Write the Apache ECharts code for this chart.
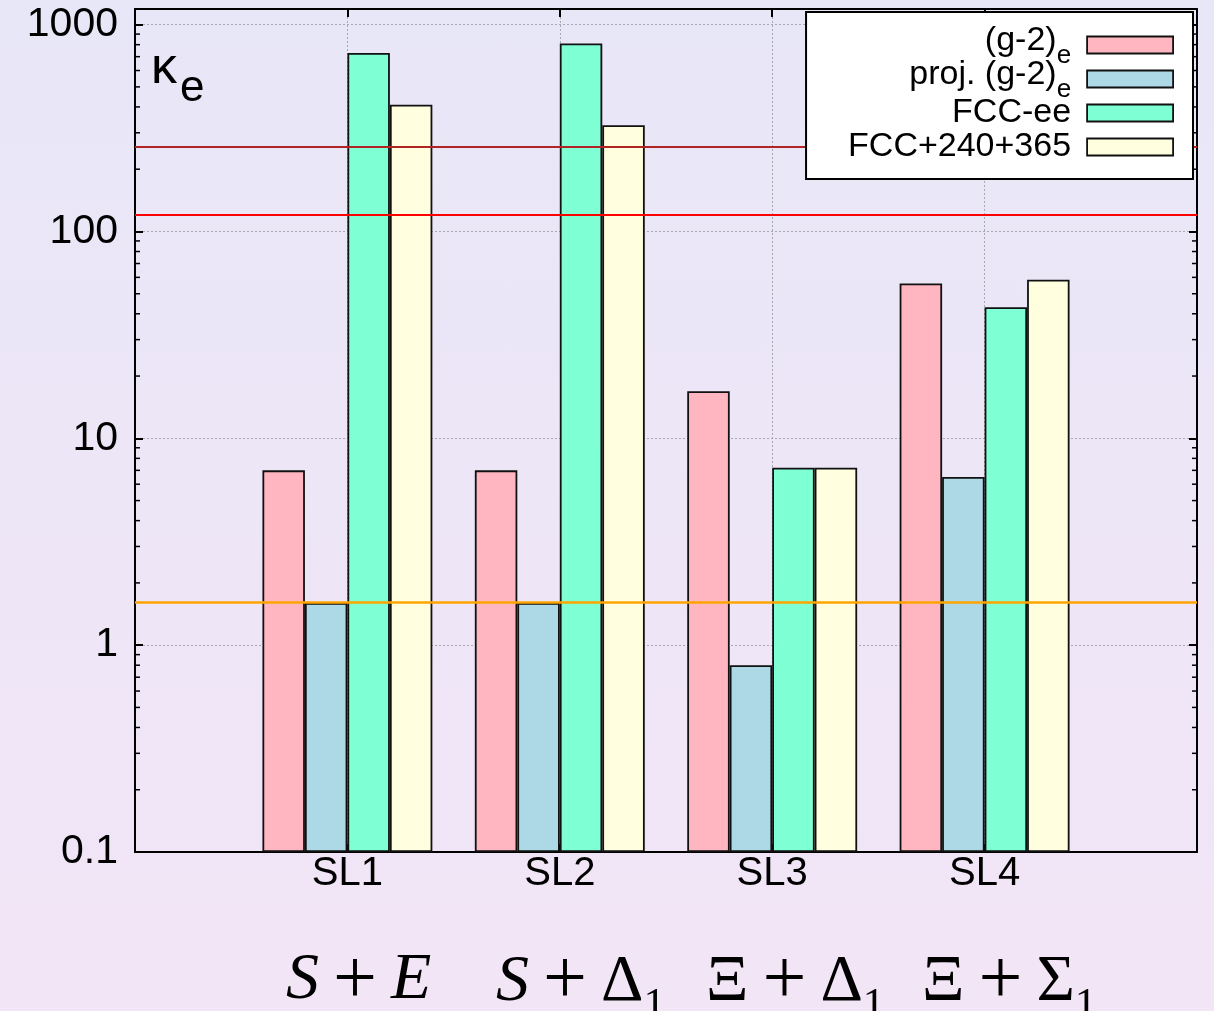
<!DOCTYPE html>
<html>
<head>
<meta charset="utf-8">
<script src="https://cdn.jsdelivr.net/npm/echarts@6/dist/echarts.min.js"></script>
<style>
html,body{margin:0;padding:0;width:1214px;height:1011px;overflow:hidden;
background:linear-gradient(to bottom,#e8e7f7 0%,#ede6f7 50%,#f2e5f6 100%);}
#chart{width:1214px;height:1011px;}
</style>
</head>
<body>
<div id="chart"></div>
<script>
// ---- data ----
const categories = ['SL1', 'SL2', 'SL3', 'SL4'];
const seriesNames = ['(g-2)e', 'proj. (g-2)e', 'FCC-ee', 'FCC+240+365'];
const legendLabels = ['{n|(g-2)}{s|e}{g| }', '{n|proj. (g-2)}{s|e}{g| }', '{m|FCC-ee}{g| }', '{m|FCC+240+365}{g| }'];
const seriesColors = ['#ffb6c1', '#add8e6', '#7fffd4', '#ffffe0'];
const g2e       = [7.0, 7.0, 16.9, 56];
const projG2e   = [1.6, 1.6, 0.80, 6.5];
const fccee     = [730, 810, 7.2, 43];
const fcc240365 = [410, 326, 7.2, 58.5];
const refLineValues = [258, 121, 1.61];
const refLineColors = ['#b22424', '#ff0000', '#ffa500'];
const yTickValues = [0.1, 1, 10, 100, 1000];
const yTickLabels = ['0.1', '1', '10', '100', '1000'];
const mathLabels = [
  '{it|S}{sp| }{pl|+}{sp| }{it|E}',
  '{it|S}{sp| }{pl|+}{sp| }{rm|Δ}{sub|1}',
  '{rm|Ξ}{sp| }{pl|+}{sp| }{rm|Δ}{sub|1}',
  '{rm|Ξ}{sp| }{pl|+}{sp| }{rm|Σ}{sub|1}'
];

// axis categories: empty slot on each side
const axisCats = [''].concat(categories, [' ']);
const pad = arr => [null].concat(arr, [null]);
const allValues = [g2e, projG2e, fccee, fcc240365];

// minor tick positions (2..9 per decade)
const minorTicks = [];
for (let i = 0; i < yTickValues.length - 1; i++) {
  for (let k = 2; k <= 9; k++) minorTicks.push(+(yTickValues[i] * k).toPrecision(3));
}

const FONT = 'Liberation Sans';
const SERIF = 'Liberation Serif';
const Y_MIN = 0.1, Y_MAX = 1190;

const chart = echarts.init(document.getElementById('chart'), null, {renderer: 'canvas'});

const barSeries = seriesNames.map((name, i) => ({
  name: name,
  type: 'bar',
  xAxisIndex: 0,
  yAxisIndex: 0,
  data: pad(allValues[i]),
  barGap: '0%',
  barCategoryGap: '20%',
  itemStyle: {color: seriesColors[i], borderColor: '#111', borderWidth: 1.8},
  emphasis: {disabled: true},
  silent: true,
  z: 2
}));

barSeries[barSeries.length - 1].markLine = {
  silent: true,
  symbol: ['none', 'none'],
  label: {show: false},
  animation: false,
  data: refLineValues.map((v, i) => ({yAxis: v, lineStyle: {color: refLineColors[i], width: i === 2 ? 2.5 : 2.2, type: 'solid'}}))
};

const minorTickSeries = {
  type: 'custom',
  xAxisIndex: 0,
  yAxisIndex: 0,
  silent: true,
  z: 5,
  clip: false,
  data: minorTicks.map(v => [0, v]),
  renderItem: function (params, api) {
    const v = api.value(1);
    const pL = api.coord([0, v]);
    const pR = api.coord([axisCats.length - 1, v]);
    const st = {stroke: '#000', lineWidth: 1.5};
    return {type: 'group', children: [
      {type: 'line', shape: {x1: pL[0], y1: pL[1], x2: pL[0] + 5, y2: pL[1]}, style: st},
      {type: 'line', shape: {x1: pR[0], y1: pR[1], x2: pR[0] - 5, y2: pR[1]}, style: st}
    ]};
  }
};

const yLabelFmt = function (val) {
  for (let i = 0; i < yTickValues.length; i++) {
    if (Math.abs(Math.log10(val) - Math.log10(yTickValues[i])) < 1e-6) return yTickLabels[i];
  }
  return '';
};

const mathRich = {
  it: {fontFamily: SERIF, fontStyle: 'italic', fontSize: 66, lineHeight: 80, verticalAlign: 'middle', fill: '#000'},
  rm: {fontFamily: SERIF, fontSize: 66, lineHeight: 80, verticalAlign: 'middle', fill: '#000'},
  sp: {fontFamily: SERIF, fontSize: 66, lineHeight: 80, width: 14},
  pl: {fontFamily: SERIF, fontSize: 78, lineHeight: 90, verticalAlign: 'top', padding: [8, 0, 0, 0], fill: '#000'},
  sub: {fontFamily: SERIF, fontSize: 44, lineHeight: 94, verticalAlign: 'top', padding: [48, 0, 0, 0], fill: '#000'}
};
const mathX = [286, 496, 706, 922];

const option = {
  backgroundColor: 'transparent',
  animation: false,
  textStyle: {fontFamily: FONT},
  grid: {left: 135, right: 17, top: 9, bottom: 159, containLabel: false},
  legend: {
    data: seriesNames,
    orient: 'vertical',
    align: 'right',
    right: 21,
    top: 12,
    padding: [9, 19, 8, 42],
    itemGap: -14,
    itemWidth: 86,
    itemHeight: 17,
    icon: 'rect',
    selectedMode: false,
    backgroundColor: '#ffffff',
    borderColor: '#000',
    borderWidth: 2,
    borderRadius: 0,
    itemStyle: {borderColor: '#111', borderWidth: 1.8},
    formatter: name => legendLabels[seriesNames.indexOf(name)],
    textStyle: {
      fontFamily: FONT, fontSize: 34, color: '#000',
      rich: {
        n: {fontFamily: FONT, fontSize: 34, lineHeight: 48, verticalAlign: 'top', padding: [3, 0, 0, 0], color: '#000'},
        m: {fontFamily: FONT, fontSize: 34, lineHeight: 48, verticalAlign: 'top', padding: [7, 0, 0, 0], color: '#000'},
        s: {fontFamily: FONT, fontSize: 26, lineHeight: 48, verticalAlign: 'top', padding: [22, 0, 0, 0], color: '#000'},
        g: {fontFamily: FONT, fontSize: 26, lineHeight: 48, verticalAlign: 'top', padding: [22, 0, 0, 0], width: 11}
      }
    },
    z: 10
  },
  xAxis: [{
    type: 'category',
    data: axisCats,
    boundaryGap: false,
    position: 'bottom',
    axisLine: {show: true, lineStyle: {color: '#000', width: 2}},
    axisTick: {show: true, inside: true, length: 8, lineStyle: {color: '#000', width: 2}},
    axisLabel: {show: true, fontFamily: FONT, fontSize: 40, color: '#000', margin: 2, interval: 0},
    splitLine: {show: true, lineStyle: {color: '#a8a8b0', width: 1, type: [2, 2]}}
  }, {
    type: 'category',
    data: axisCats,
    boundaryGap: false,
    position: 'top',
    axisLine: {show: true, lineStyle: {color: '#000', width: 2}},
    axisTick: {show: true, inside: true, length: 8, lineStyle: {color: '#000', width: 2}},
    axisLabel: {show: false},
    splitLine: {show: false}
  }],
  yAxis: [{
    type: 'log',
    logBase: 10,
    min: Y_MIN,
    max: Y_MAX,
    startValue: Y_MIN,
    position: 'left',
    axisLine: {show: true, lineStyle: {color: '#000', width: 2}},
    axisTick: {show: true, inside: true, length: 8, lineStyle: {color: '#000', width: 2}},
    axisLabel: {show: true, fontFamily: FONT, fontSize: 41, color: '#000', margin: 17, formatter: yLabelFmt, showMaxLabel: false},
    splitLine: {show: true, lineStyle: {color: '#a8a8b0', width: 1, type: [2, 2]}},
    minorTick: {show: false}
  }, {
    type: 'log',
    logBase: 10,
    min: Y_MIN,
    max: Y_MAX,
    position: 'right',
    axisLine: {show: true, lineStyle: {color: '#000', width: 2}},
    axisTick: {show: true, inside: true, length: 8, lineStyle: {color: '#000', width: 2}},
    axisLabel: {show: false},
    splitLine: {show: false}
  }],
  graphic: [
    {type: 'text', x: 151, y: 69, silent: true, style: {text: 'κ', fontFamily: FONT, fontSize: 52, fill: '#000', verticalAlign: 'middle', align: 'left'}},
    {type: 'text', x: 180, y: 89, silent: true, style: {text: 'e', fontFamily: FONT, fontSize: 44, fill: '#000', verticalAlign: 'middle', align: 'left'}}
  ].concat(mathLabels.map((t, i) => ({
    type: 'text', x: mathX[i], y: 936, silent: true,
    style: {text: t, rich: mathRich, verticalAlign: 'top', align: 'left', fill: '#000'}
  }))),
  series: barSeries.concat([minorTickSeries])
};

chart.setOption(option);
</script>
</body>
</html>
